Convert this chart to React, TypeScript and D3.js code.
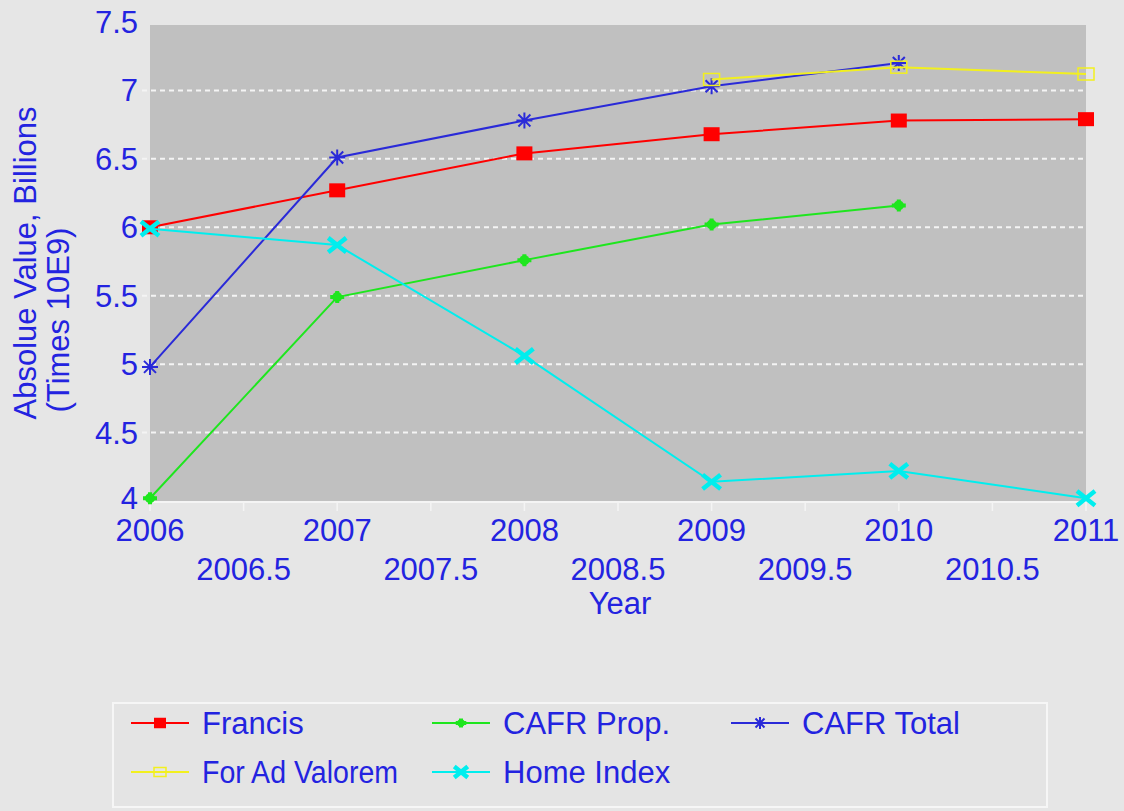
import React, { useRef, useEffect } from "react";
import * as d3 from "d3";

const years = [2006, 2007, 2008, 2009, 2010, 2011];
const francis = [6.0, 6.27, 6.54, 6.68, 6.78, 6.79];
const cafrProp = [4.02, 5.49, 5.76, 6.02, 6.16];
const cafrTotal = [4.98, 6.51, 6.78, 7.03, 7.2];
const adValorem = [null, null, null, 7.08, 7.17, 7.12];
const homeIndex = [5.99, 5.87, 5.06, 4.14, 4.22, 4.02];
const yTicks = [4, 4.5, 5, 5.5, 6, 6.5, 7, 7.5];
const xTicks = [2006, 2006.5, 2007, 2007.5, 2008, 2008.5, 2009, 2009.5, 2010, 2010.5, 2011];

const BLUE = "#2323e0";
const FONT = "Liberation Sans, Arial, sans-serif";
const FS = 31;

const series = [
    { name: "Francis", values: francis, color: "#ff0000", marker: "square" },
    { name: "CAFR Prop.", values: cafrProp, color: "#1ee61e", marker: "plus" },
    { name: "CAFR Total", values: cafrTotal, color: "#2a2ad8", marker: "asterisk" },
    { name: "For Ad Valorem", values: adValorem, color: "#f2f01e", marker: "open" },
    { name: "Home Index", values: homeIndex, color: "#00eeee", marker: "x" },
];

function drawMarker(g, kind, x, y, color, s = 1) {
    if (kind === "square") {
        g.append("rect").attr("x", x - 8 * s).attr("y", y - 7 * s).attr("width", 16 * s).attr("height", 14 * s).attr("fill", color);
    } else if (kind === "open") {
        g.append("rect").attr("x", x - 8 * s).attr("y", y - 6 * s).attr("width", 16 * s).attr("height", 12 * s)
            .attr("fill", "none").attr("stroke", color).attr("stroke-width", 1.5);
    } else if (kind === "plus") {
        g.append("path").attr("d", `M${x - 7 * s},${y}L${x + 7 * s},${y}M${x},${y - 6 * s}L${x},${y + 6 * s}`)
            .attr("stroke", color).attr("stroke-width", 4);
        g.append("circle").attr("cx", x).attr("cy", y).attr("r", 5 * s).attr("fill", color);
    } else if (kind === "asterisk") {
        const r = 8 * s;
        g.append("path")
            .attr("d", `M${x - r},${y}L${x + r},${y}M${x - r * 0.75},${y - r * 0.75}L${x + r * 0.75},${y + r * 0.75}M${x - r * 0.75},${y + r * 0.75}L${x + r * 0.75},${y - r * 0.75}M${x},${y - r}L${x},${y + r}`)
            .attr("stroke", color).attr("stroke-width", 2);
    } else if (kind === "x") {
        const r = 9 * s;
        g.append("path").attr("d", `M${x - r},${y - r * 0.8}L${x + r},${y + r * 0.8}M${x - r},${y + r * 0.8}L${x + r},${y - r * 0.8}`)
            .attr("stroke", color).attr("stroke-width", 4.5);
    }
}

const App = () => {
    const svgRef = useRef(null);

    useEffect(() => {
        const svg = d3.select(svgRef.current);
        svg.selectAll("*").remove();

        const width = 1124, height = 811;
        const left = 150, right = 1086, top = 22, bottom = 501;

        const x = d3.scaleLinear().domain([2006, 2011]).range([left, right]);
        const y = d3.scaleLinear().domain([4, 7.5]).range([bottom, top]);

        svg.append("rect").attr("width", width).attr("height", height).attr("fill", "#e6e6e6");
        svg.append("rect").attr("x", left).attr("y", top + 3).attr("width", right - left).attr("height", bottom - top - 3).attr("fill", "#c0c0c0");

        // gridlines
        svg.append("g").selectAll("line").data(yTicks.slice(1, -1)).join("line")
            .attr("x1", left - 8).attr("x2", right)
            .attr("y1", d => y(d)).attr("y2", d => y(d))
            .attr("stroke", "#f4f4f4").attr("stroke-width", 2)
            .attr("stroke-dasharray", "5,4");

        // x axis line + ticks
        svg.append("line").attr("x1", left).attr("x2", right).attr("y1", bottom + 1).attr("y2", bottom + 1)
            .attr("stroke", "#f4f4f4").attr("stroke-width", 2);
        svg.append("g").selectAll("line").data(xTicks).join("line")
            .attr("x1", d => x(d)).attr("x2", d => x(d)).attr("y1", bottom).attr("y2", bottom + 10)
            .attr("stroke", "#f4f4f4").attr("stroke-width", 1.5);

        // y tick labels
        svg.append("g").selectAll("text").data(yTicks).join("text")
            .attr("x", 138).attr("y", d => y(d) + (d === 4 ? 8 : 11))
            .attr("text-anchor", "end").attr("font-family", FONT).attr("font-size", FS)
            .attr("fill", BLUE).text(d => d);

        // x tick labels (two rows)
        svg.append("g").selectAll("text").data(xTicks).join("text")
            .attr("x", d => x(d)).attr("y", (d, i) => (i % 2 === 0 ? 541 : 580))
            .attr("text-anchor", "middle").attr("font-family", FONT).attr("font-size", FS)
            .attr("fill", BLUE).text(d => d);

        svg.append("text").attr("x", 620).attr("y", 614).attr("text-anchor", "middle")
            .attr("font-family", FONT).attr("font-size", FS).attr("fill", BLUE).text("Year");

        svg.append("text").attr("transform", "translate(36,263) rotate(-90)").attr("text-anchor", "middle")
            .attr("font-family", FONT).attr("font-size", FS).attr("fill", BLUE).text("Absolue Value, Billions");
        svg.append("text").attr("transform", "translate(69,320) rotate(-90)").attr("text-anchor", "middle")
            .attr("font-family", FONT).attr("font-size", FS).attr("fill", BLUE).text("(Times 10E9)");

        // lines
        const plot = svg.append("g");
        series.forEach(s => {
            const pts = s.values.map((v, i) => ({ yr: years[i], v })).filter(p => p.v != null);
            const line = d3.line().x(p => x(p.yr)).y(p => y(p.v));
            plot.append("path").attr("d", line(pts)).attr("fill", "none")
                .attr("stroke", s.color).attr("stroke-width", 2);
            pts.forEach(p => drawMarker(plot, s.marker, x(p.yr), y(p.v), s.color));
        });

        // legend
        const lg = svg.append("g");
        lg.append("rect").attr("x", 113).attr("y", 703).attr("width", 934).attr("height", 104)
            .attr("fill", "#e4e4e4").attr("stroke", "#f6f6f6").attr("stroke-width", 2);
        const cols = [131, 432, 731];
        series.forEach((s, i) => {
            const cx = cols[i % 3];
            const cy = i < 3 ? 723 : 772;
            lg.append("line").attr("x1", cx).attr("x2", cx + 58).attr("y1", cy).attr("y2", cy)
                .attr("stroke", s.color).attr("stroke-width", 2);
            drawMarker(lg, s.marker, cx + 29, cy, s.color, 0.75);
            const t = lg.append("text").attr("x", cx + 71).attr("y", cy + 11)
                .attr("font-family", FONT).attr("font-size", FS).attr("fill", BLUE).text(s.name);
            if (s.name === "For Ad Valorem") t.attr("textLength", 196).attr("lengthAdjust", "spacingAndGlyphs");
        });
    }, []);

    return <svg ref={svgRef} width={1124} height={811} style={{ position: "absolute", left: 0, top: 0 }}></svg>;
};

export default App;
